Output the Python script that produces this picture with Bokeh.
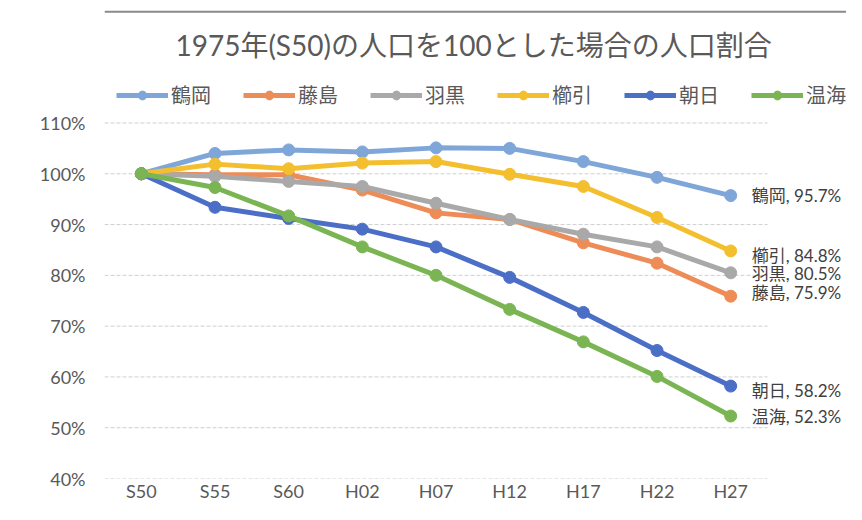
from bokeh.plotting import figure
from bokeh.models import (Range1d, FixedTicker, PrintfTickFormatter, Legend, LegendItem,
                          Label, Span)
from bokeh.embed import file_html
from bokeh.resources import INLINE

# ---- data ----
periods = ["S50", "S55", "S60", "H02", "H07", "H12", "H17", "H22", "H27"]
names = ["鶴岡", "藤島", "羽黒", "櫛引", "朝日", "温海"]
tsuruoka = [100, 104.0, 104.7, 104.3, 105.1, 105.0, 102.4, 99.3, 95.7]
fujishima = [100, 99.8, 99.8, 96.8, 92.3, 91.0, 86.4, 82.4, 75.9]
haguro = [100, 99.5, 98.5, 97.5, 94.2, 91.0, 88.1, 85.6, 80.5]
kushibiki = [100, 101.9, 101.0, 102.1, 102.4, 99.9, 97.5, 91.4, 84.8]
asahi = [100, 93.4, 91.2, 89.1, 85.6, 79.6, 72.7, 65.2, 58.2]
atsumi = [100, 97.3, 91.7, 85.6, 80.0, 73.3, 66.9, 60.1, 52.3]
series = [tsuruoka, fujishima, haguro, kushibiki, asahi, atsumi]
y_ticks = [40, 50, 60, 70, 80, 90, 100, 110]
title_text = "1975年(S50)の人口を100とした場合の人口割合"

# ---- styles ----
colors = ["#7fa6d9", "#ee8c57", "#a9a9a9", "#f4bf2e", "#4b6ec6", "#7bb553"]
label_dy = [0, 4, -1, -5, -4, 0]
FONT = "Lato, Noto Sans CJK JP"
CJK = "Noto Sans CJK JP"
TXT = "#595959"
W, H = 846, 504
LEFT, BOTTOM = 104, 24          # panel sizes (px)
PX_X, PX_Y = 73.67, 5.1         # pixels per category / per percent point

xs = list(range(len(periods)))
x_lo, x_hi = -0.5, len(periods) - 0.5
y_lo, y_hi = min(y_ticks), max(y_ticks)
# frame extends past the plotted area to host title, legend and end labels
x_end = x_lo + (W - LEFT) / PX_X
y_top = y_lo + (H - BOTTOM) / PX_Y

p = figure(width=W, height=H, output_backend="svg", toolbar_location=None,
           x_range=Range1d(x_lo, x_end), y_range=Range1d(y_lo, y_top),
           min_border_left=LEFT, min_border_right=0, min_border_top=0,
           min_border_bottom=BOTTOM)
p.outline_line_color = None
p.background_fill_color = "white"
p.border_fill_color = "white"

p.xaxis.ticker = FixedTicker(ticks=xs)
p.xaxis.major_label_overrides = {i: s for i, s in enumerate(periods)}
p.yaxis.ticker = FixedTicker(ticks=y_ticks)
p.yaxis.formatter = PrintfTickFormatter(format="%d%%")
for ax in (p.xaxis, p.yaxis):
    ax.axis_line_color = None
    ax.major_tick_line_color = None
    ax.minor_tick_line_color = None
    ax.major_tick_out = 0
    ax.major_tick_in = 0
    ax.major_label_text_font = FONT
    ax.major_label_text_font_size = "18px"
    ax.major_label_text_color = TXT
p.yaxis.major_label_standoff = 19
p.xaxis.major_label_standoff = 1
p.xgrid.grid_line_color = None
p.ygrid.grid_line_color = None

# horizontal gridlines limited to the category span
p.segment(x0=x_lo, x1=x_hi, y0=y_ticks, y1=y_ticks, line_color="#cfcfcf",
          line_dash="4 2", line_width=1)

items = []
for name, vals, c in zip(names, series, colors):
    r1 = p.line(xs, vals, line_color=c, line_width=5)
    r2 = p.scatter(xs, vals, size=12, fill_color=c, line_color=c)
    items.append(LegendItem(label=name, renderers=[r1, r2]))

legend = Legend(items=items, orientation="horizontal", location=(12, 369),
                glyph_width=52, glyph_height=22, label_standoff=3, spacing=32,
                padding=0, margin=0, border_line_color=None, background_fill_alpha=0,
                label_text_font=CJK, label_text_font_size="20px", label_text_color=TXT)
p.add_layout(legend, "center")

# end-point data labels
for name, vals, dy in zip(names, series, label_dy):
    p.add_layout(Label(x=xs[-1], y=vals[-1], x_offset=21, y_offset=dy,
                       text=f"{name}, {vals[-1]:.1f}%", text_font=FONT,
                       text_font_size="17px", text_color="#404040",
                       text_baseline="middle", text_align="left"))

# chart title
p.add_layout(Label(x=4.51, y=125.3, text=title_text, text_font=FONT,
                   text_font_size="28px", text_color=TXT,
                   text_align="center", text_baseline="middle"))

# scanned frame edge at the top
p.add_layout(Span(location=131.9, dimension="width", line_color="#8a8a8a", line_width=2))

open("out.html", "w").write(file_html(p, INLINE))
